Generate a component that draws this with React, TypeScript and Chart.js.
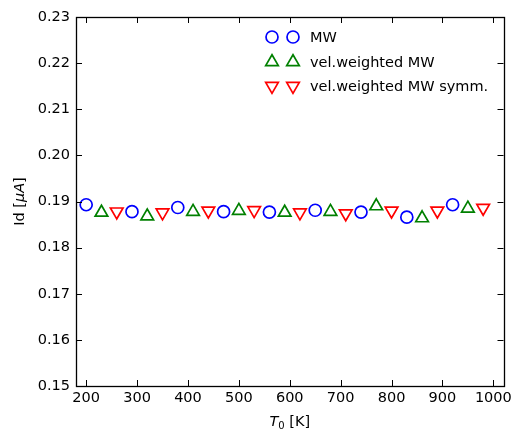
import React, { useEffect, useRef } from "react";
import { Chart, registerables } from "chart.js";

Chart.register(...registerables);

const mwT = [200, 290, 380, 470, 560, 650, 740, 830, 920];
const mwId = [0.1893, 0.1878, 0.1887, 0.1878, 0.1877, 0.1881, 0.1877, 0.1866, 0.1893];
const velT = [230, 320, 410, 500, 590, 680, 770, 860, 950];
const velId = [0.1876, 0.1868, 0.1878, 0.188, 0.1876, 0.1878, 0.189, 0.1864, 0.1885];
const symT = [260, 350, 440, 530, 620, 710, 800, 890, 980];
const symId = [0.1878, 0.1876, 0.188, 0.1881, 0.1876, 0.1874, 0.188, 0.188, 0.1886];

const xTicks = [200, 300, 400, 500, 600, 700, 800, 900, 1000];
const yTicks = [0.15, 0.16, 0.17, 0.18, 0.19, 0.2, 0.21, 0.22, 0.23];
const seriesNames = ["MW", "vel.weighted MW", "vel.weighted MW symm."];

const FONT = "DejaVu Sans";

function drawMarker(ctx: CanvasRenderingContext2D, style: string, rot: number, x: number, y: number, r: number) {
  ctx.beginPath();
  if (style === "circle") {
    ctx.arc(x, y, r, 0, Math.PI * 2);
  } else {
    let rad = (rot * Math.PI) / 180;
    for (let i = 0; i < 3; i++) {
      const px = x + Math.sin(rad) * r;
      const py = y - Math.cos(rad) * r;
      if (i === 0) ctx.moveTo(px, py);
      else ctx.lineTo(px, py);
      rad += (2 * Math.PI) / 3;
    }
    ctx.closePath();
  }
  ctx.stroke();
}

const framePlugin = {
  id: "frameTicks",
  afterDraw(chart: any) {
    const ctx = chart.ctx as CanvasRenderingContext2D;
    const { left, right, top, bottom } = chart.chartArea;
    const xs = chart.scales.x;
    const ys = chart.scales.y;
    ctx.save();
    ctx.strokeStyle = "#000";
    ctx.lineWidth = 1;
    const tl = 6;
    ctx.beginPath();
    xTicks.forEach((v) => {
      const px = Math.round(xs.getPixelForValue(v)) + 0.5;
      ctx.moveTo(px, bottom);
      ctx.lineTo(px, bottom - tl);
      ctx.moveTo(px, top);
      ctx.lineTo(px, top + tl);
    });
    yTicks.forEach((v) => {
      const py = Math.round(ys.getPixelForValue(v)) + 0.5;
      ctx.moveTo(left, py);
      ctx.lineTo(left + tl, py);
      ctx.moveTo(right, py);
      ctx.lineTo(right - tl, py);
    });
    ctx.stroke();
    ctx.lineWidth = 1.3;
    ctx.strokeRect(Math.round(left) + 0.5, Math.round(top) + 0.5, Math.round(right - left), Math.round(bottom - top));

    // axis titles
    ctx.fillStyle = "#000";
    ctx.textBaseline = "middle";
    const cx = (left + right) / 2;
    const ty = 422;
    ctx.font = `italic 14.5px ${FONT}`;
    const wT = ctx.measureText("T").width;
    ctx.font = `10px ${FONT}`;
    const w0 = ctx.measureText("0").width;
    ctx.font = `14.5px ${FONT}`;
    const wK = ctx.measureText(" [K]").width;
    const sx = cx - (wT + w0 + wK) / 2;
    ctx.textAlign = "left";
    ctx.font = `italic 14.5px ${FONT}`;
    ctx.fillText("T", sx, ty);
    ctx.font = `10px ${FONT}`;
    ctx.fillText("0", sx + wT, ty + 4);
    ctx.font = `14.5px ${FONT}`;
    ctx.fillText(" [K]", sx + wT + w0, ty);

    ctx.save();
    ctx.translate(20, (top + bottom) / 2);
    ctx.rotate(-Math.PI / 2);
    ctx.font = `14.5px ${FONT}`;
    const a = "Id [";
    const b = "μA";
    const c = "]";
    const wa = ctx.measureText(a).width;
    const wc = ctx.measureText(c).width;
    ctx.font = `italic 14.5px ${FONT}`;
    const wb = ctx.measureText(b).width;
    const yx = -(wa + wb + wc) / 2;
    ctx.font = `14.5px ${FONT}`;
    ctx.fillText(a, yx, 0);
    ctx.font = `italic 14.5px ${FONT}`;
    ctx.fillText(b, yx + wa, 0);
    ctx.font = `14.5px ${FONT}`;
    ctx.fillText(c, yx + wa + wb, 0);
    ctx.restore();

    // legend
    const rows = [37, 62, 86];
    chart.data.datasets.forEach((ds: any, i: number) => {
      ctx.strokeStyle = ds.borderColor;
      ctx.lineWidth = ds.borderWidth;
      drawMarker(ctx, ds.pointStyle, ds.rotation || 0, 272, rows[i], ds.pointRadius);
      drawMarker(ctx, ds.pointStyle, ds.rotation || 0, 293, rows[i], ds.pointRadius);
      ctx.fillStyle = "#000";
      ctx.font = `14.5px ${FONT}`;
      ctx.textAlign = "left";
      ctx.textBaseline = "middle";
      ctx.fillText(ds.label, 310, rows[i] + 1);
    });
    ctx.restore();
  },
};

export default function App() {
  const ref = useRef<HTMLCanvasElement>(null);
  useEffect(() => {
    if (!ref.current) return;
    const mk = (xs: number[], ys: number[]) => xs.map((x, i) => ({ x, y: ys[i] }));
    const chart = new Chart(ref.current, {
      type: "scatter",
      data: {
        datasets: [
          {
            label: seriesNames[0],
            data: mk(mwT, mwId),
            pointStyle: "circle",
            pointRadius: 6,
            borderColor: "#0000ff",
            backgroundColor: "rgba(0,0,0,0)",
            borderWidth: 1.7,
          },
          {
            label: seriesNames[1],
            data: mk(velT, velId),
            pointStyle: "triangle",
            pointRadius: 7.3,
            borderColor: "#008000",
            backgroundColor: "rgba(0,0,0,0)",
            borderWidth: 1.7,
          },
          {
            label: seriesNames[2],
            data: mk(symT, symId),
            pointStyle: "triangle",
            rotation: 180,
            pointRadius: 7.3,
            borderColor: "#ff0000",
            backgroundColor: "rgba(0,0,0,0)",
            borderWidth: 1.7,
          } as any,
        ],
      },
      options: {
        animation: false,
        responsive: false,
        layout: { padding: { top: 17, right: 9, left: 0, bottom: 0 } },
        plugins: { legend: { display: false }, tooltip: { enabled: false } },
        scales: {
          x: {
            type: "linear",
            min: 180,
            max: 1020,
            grid: { display: false, drawTicks: false },
            border: { display: false },
            afterBuildTicks: (s: any) => {
              s.ticks = xTicks.map((v) => ({ value: v }));
            },
            afterFit: (s: any) => {
              s.height = 46;
            },
            ticks: {
              color: "#000",
              padding: 4,
              maxRotation: 0,
              autoSkip: false,
              font: { family: FONT, size: 14.5 },
              callback: (v: any) => String(v),
            },
          },
          y: {
            type: "linear",
            min: 0.15,
            max: 0.23,
            grid: { display: false, drawTicks: false },
            border: { display: false },
            afterBuildTicks: (s: any) => {
              s.ticks = yTicks.map((v) => ({ value: v }));
            },
            afterFit: (s: any) => {
              s.width = 76;
            },
            ticks: {
              color: "#000",
              padding: 6,
              autoSkip: false,
              font: { family: FONT, size: 14.5 },
              callback: (v: any) => Number(v).toFixed(2),
            },
          },
        },
      },
      plugins: [framePlugin],
    });
    return () => chart.destroy();
  }, []);
  return (
    <div style={{ position: "fixed", left: 0, top: 0, width: 516, height: 432, background: "#fff" }}>
      <canvas ref={ref} width={516} height={432} style={{ display: "block" }} />
    </div>
  );
}
